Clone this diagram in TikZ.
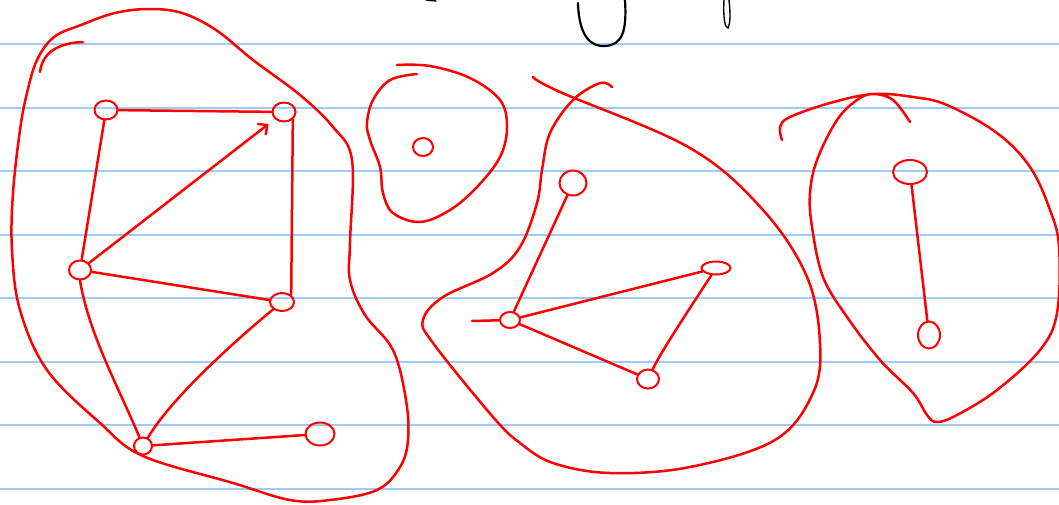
\documentclass[tikz,border=0pt]{standalone}
\usetikzlibrary{shapes.geometric,arrows.meta}
\definecolor{penred}{RGB}{255,0,0}
\definecolor{ruleblue}{RGB}{158,204,250}

\begin{document}
\begin{tikzpicture}[x=1pt, y=-1pt,
    rule/.style={ruleblue, line width=2pt},
    blob/.style={penred, line width=2.5pt, line cap=round, line join=round},
    edge/.style={penred, line width=2.5pt, line cap=round},
    ink/.style={black, line width=2.2pt, line cap=round},
    vtx/.style={ellipse, draw=penred, line width=2pt, inner sep=0pt,
                minimum width=20pt, minimum height=15pt}]
    \useasboundingbox (0,0) rectangle (1059,504);

    % lignes du cahier
    \foreach \y in {44,107.5,171,234.5,298,361.5,425,488.5}
        \draw[rule] (0,\y) -- (1059,\y);

    % traits noirs en haut
    \draw[ink] (578,3) .. controls (579,38) and (592,47) .. (605,46)
        .. controls (622,45) and (627,32) .. (625,0);
    \draw[ink, line width=1.4pt] (724,0) .. controls (723,18) and (725,28) .. (728,28)
        .. controls (731,22) and (730,10) .. (729,0);
    \draw[ink, line width=1.4pt] (426,0) -- (436,1);

    % composante 1
    \node[vtx, minimum width=23pt, minimum height=19pt] (A) at (106,110) {};
    \node[vtx, minimum width=23pt, minimum height=19pt] (B) at (284,112) {};
    \node[vtx, minimum width=22pt, minimum height=19pt] (C) at (80,270) {};
    \node[vtx, minimum width=24pt, minimum height=18pt] (D) at (282,302) {};
    \node[vtx, minimum width=18pt, minimum height=17pt] (E) at (143,446) {};
    \node[vtx, minimum width=29pt, minimum height=23pt] (F) at (320,434) {};

    \draw[edge] (A) -- (B);
    \draw[edge] (A) -- (C);
    \draw[edge, -{Straight Barb[length=7pt]}, shorten >=8pt] (C) -- (B);
    \draw[edge] (B.south east) -- (D.north east);
    \draw[edge] (C) -- (D);
    \draw[edge] (C.south) .. controls (89,335) and (120,390) .. (E);
    \draw[edge] (D) .. controls (230,345) and (170,400) .. (E);
    \draw[edge] (E) -- (F);

    \draw[blob] plot[smooth cycle, tension=0.6] coordinates {
        (37,60) (54,37) (81,25) (115,13) (149,9) (182,13) (216,30) (253,60)
        (300,95) (333,127) (352,160) (350,243) (350,280) (365,315) (393,350)
        (406,400) (408,440) (400,467) (377,490) (330,500) (290,500) (233,483)
        (143,456) (100,423) (47,370) (20,310) (12,250) (13,193) (20,130) (27,93)};
    \draw[blob] (40,72) .. controls (42,55) and (55,43) .. (83,42);

    % composante 2
    \node[vtx, minimum width=20pt, minimum height=18pt] (N) at (423,147) {};

    \draw[blob] plot[smooth, tension=0.6] coordinates {
        (397,65) (430,66) (470,78) (500,100) (507,127) (500,157) (477,187)
        (450,210) (420,222) (393,213) (383,193) (380,167) (370,140) (367,123)
        (373,100) (390,80) (417,74)};

    % composante 3
    \node[vtx, minimum width=27pt, minimum height=25pt] (G) at (573,183) {};
    \node[vtx, minimum width=20pt, minimum height=16pt] (H) at (510,320) {};
    \node[vtx, minimum width=29pt, minimum height=13pt] (I) at (716,268) {};
    \node[vtx, minimum width=22pt, minimum height=19pt] (J) at (648,379) {};
    \coordinate (Htail) at (472,321);

    \draw[edge] (G) -- (H);
    \draw[edge] (Htail) -- (H) -- (I);
    \draw[edge] (H) -- (J);
    \draw[edge] (I) .. controls (692,305) and (662,350) .. (J);

    \draw[blob] plot[smooth, tension=0.6] coordinates {
        (533,77) (560,92) (690,148) (763,210) (807,277) (820,343) (813,393)
        (775,440) (690,467) (610,473) (553,463) (520,443) (493,417) (433,343)
        (423,320) (443,297) (493,273) (520,247) (537,203) (542,170) (550,133)
        (573,100) (600,83) (612,87)};

    % composante 4
    \node[vtx, minimum width=34pt, minimum height=24pt] (K) at (910,172) {};
    \node[vtx, minimum width=22pt, minimum height=27pt] (L) at (929,335) {};

    \draw[edge] (K) -- (L);

    \draw[blob] plot[smooth, tension=0.6] coordinates {
        (782,140) (780,127) (790,117) (830,103) (873,94) (913,97) (947,105)
        (997,133) (1030,167) (1050,210) (1059,247) (1057,313) (1040,350)
        (997,390) (957,415) (937,422) (927,415) (913,393) (880,360) (847,317)
        (823,277) (812,227) (810,193) (817,160) (837,120) (857,100) (873,94)
        (893,100) (910,122)};
\end{tikzpicture}
\end{document}
